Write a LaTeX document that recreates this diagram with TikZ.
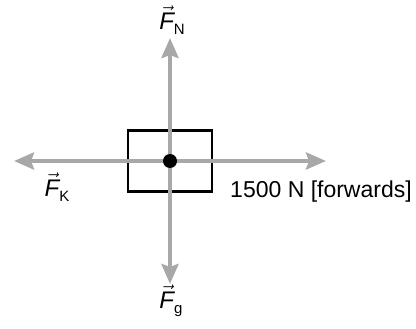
\documentclass[tikz,border=0pt]{standalone}
\usepackage{fontspec}
\setmainfont{Liberation Sans}
\usetikzlibrary{arrows.meta,positioning}
\definecolor{ForceGrey}{HTML}{A8A8A8}
\newcommand{\forcevec}[1]{$\vec{\hbox{\itshape F}}$\raisebox{-5pt}{\fontsize{15}{15}\selectfont #1}}

\begin{document}
\begin{tikzpicture}[x=1pt,y=-1pt, every node/.style={font=\fontsize{23}{26}\selectfont,inner sep=0pt}, force/.style={draw=ForceGrey,line width=4pt,-{Stealth[length=20pt,width=17pt,inset=3pt]}}, crate/.style={draw=black,line width=2.6pt,minimum width=84pt,minimum height=61pt}, symb/.style={font=\fontsize{24}{26}\selectfont}]
\useasboundingbox (0,0) rectangle (416,329);
\node[crate] (box) at (170,161) {};
\coordinate (obj) at (170,161);
\coordinate (tipN) at (170,38);
\coordinate (tipG) at (170,284);
\coordinate (tipK) at (14,161);
\coordinate (tipA) at (326,161);
\draw[force] (obj) -- (tipN);
\draw[force] (obj) -- (tipG);
\draw[force] (obj) -- (tipK);
\draw[force] (obj) -- (tipA);
\fill (obj) circle (7pt);
\node[symb] (labN) at (172,20) {\forcevec{N}};
\node[symb] (labK) at (57,187) {\forcevec{K}};
\node[symb] (labG) at (171,301) {\forcevec{g}};
\node (labA) at (321,192) {1500 N [forwards]};
\end{tikzpicture}
\end{document}
